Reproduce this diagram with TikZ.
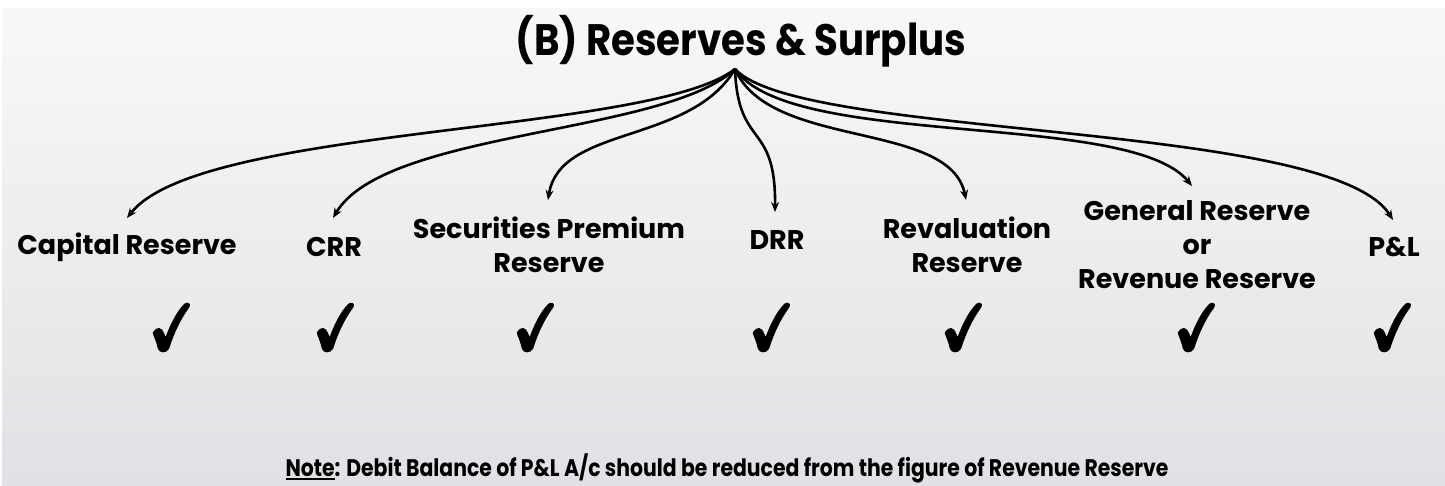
\documentclass[tikz,border=0pt]{standalone}
\usepackage{fontspec}
\setmainfont{Poppins}
\newfontfamily\notefont{Poppins}[FakeStretch=0.85]
\newfontfamily\titlefont{Poppins}[FakeStretch=0.88]
\usetikzlibrary{arrows.meta}
\definecolor{bgtop}{HTML}{F8F8F8}
\definecolor{bgbot}{HTML}{E1E1E5}
% thick underline for the word "Note"
\newcommand\thickul[1]{\setbox0\hbox{#1}\rlap{\rule[-3.5pt]{\wd0}{1.8pt}}\box0}
\begin{document}
\begin{tikzpicture}[x=1pt,y=-1pt,
  itemlabel/.style={font=\fontsize{27}{34}\selectfont\bfseries, align=center, inner sep=0pt},
  branch/.style={line width=2.6pt, -{Stealth[length=10pt,width=8pt]}},
  tick/.pic={
    \filldraw[black, line width=2.6pt, line join=round]
      (-16,6) .. controls (-13,1) and (-9,1) .. (-7,7)
      .. controls (-6,10) and (-5,12) .. (-4,13)
      .. controls (1,-2) and (8,-15) .. (15,-22)
      .. controls (17,-24) and (20,-23) .. (18,-20)
      .. controls (9,-8) and (2,8) .. (-2,21)
      .. controls (-4,25) and (-10,25) .. (-11,21)
      .. controls (-12,16) and (-14,11) .. (-16,6) -- cycle;
  }]
\useasboundingbox (0,0) rectangle (1445,485);
% background
\fill[white] (0,0) rectangle (1445,485);
\shade[top color=bgtop,bottom color=bgbot] (2,8) rectangle (1445,485);

% heading and the point the branches leave from
\node[inner sep=0pt] (title) at (741,41) {\titlefont\fontsize{44}{44}\selectfont\bfseries (B) Reserves \& Surplus};
\coordinate (root) at (735,69);

% items
\node[itemlabel] (cap) at (127,247) {Capital Reserve};
\node[itemlabel] (crr) at (334,247) {CRR};
\node[itemlabel] (sec) at (549,245) {Securities Premium\\Reserve};
\node[itemlabel] (drr) at (777,240) {DRR};
\node[itemlabel] (rev) at (967,245) {Revaluation\\Reserve};
\node[itemlabel] (gen) at (1197,245) {General Reserve\\or\\Revenue Reserve};
\node[itemlabel] (pl) at (1394,247) {P\&L};

% arrow tips above the items
\coordinate (capT) at (127,218);
\coordinate (crrT) at (333,218);
\coordinate (secT) at (548,200);
\coordinate (drrT) at (775,212);
\coordinate (revT) at (966,200);
\coordinate (genT) at (1192,186);
\coordinate (plT)  at (1393,220);

% branches
\draw[branch] (root) .. controls (650,135) and (200,125) .. (capT);
\draw[branch] (root) .. controls (665,135) and (385,130) .. (crrT);
\draw[branch] (root) .. controls (690,145) and (560,125) .. (secT);
\draw[branch] (root) .. controls (738,150) and (776,120) .. (drrT);
\draw[branch] (root) .. controls (770,150) and (950,120) .. (revT);
\draw[branch] (root) .. controls (790,150) and (1130,110) .. (genT);
\draw[branch] (root) .. controls (800,140) and (1330,120) .. (plT);

% check marks
\pic at (170,327) {tick};
\pic at (334,327) {tick};
\pic at (534,327) {tick};
\pic at (770,327) {tick};
\pic at (962,327) {tick};
\pic at (1195,327) {tick};
\pic at (1391,327) {tick};

% footnote
\node[inner sep=0pt] (note) at (727,468) {\notefont\fontsize{24}{24}\selectfont\bfseries \thickul{Note}: Debit Balance of P\&L A/c should be reduced from the figure of Revenue Reserve};
\end{tikzpicture}
\end{document}
